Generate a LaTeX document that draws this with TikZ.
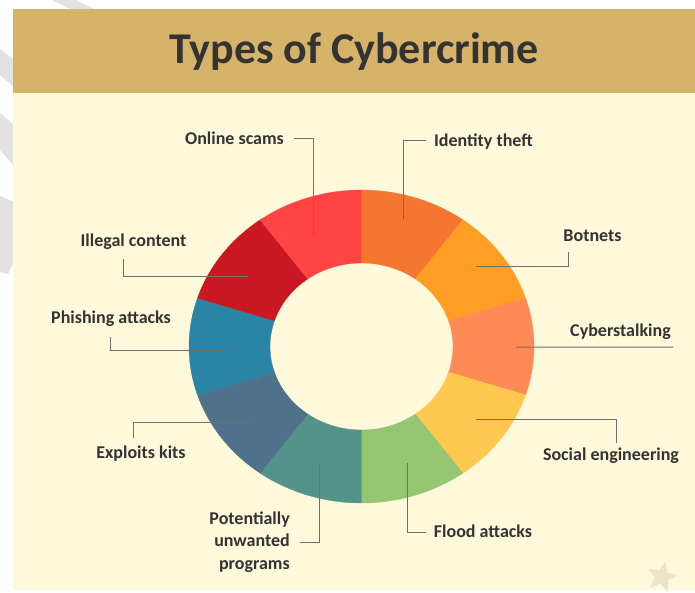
\documentclass[tikz,border=0pt]{standalone}
\usepackage{fontspec}
\setmainfont{Carlito}
\usetikzlibrary{shapes.geometric}
\definecolor{cream}{HTML}{FFF9DB}
\definecolor{bannerc}{HTML}{D7B36A}
\definecolor{txt}{HTML}{333333}
\definecolor{lin}{HTML}{707070}
\definecolor{wmark}{HTML}{E2E2E2}
\definecolor{starc}{HTML}{EBE4CB}
\definecolor{cA}{HTML}{F5762E}
\definecolor{cB}{HTML}{FF9D25}
\definecolor{cC}{HTML}{FF8A55}
\definecolor{cD}{HTML}{FFC94F}
\definecolor{cE}{HTML}{96C574}
\definecolor{cF}{HTML}{53938A}
\definecolor{cG}{HTML}{4F718A}
\definecolor{cH}{HTML}{2A84A5}
\definecolor{cI}{HTML}{C91822}
\definecolor{cJ}{HTML}{FF4444}
\begin{document}
\begin{tikzpicture}[x=1pt,y=1pt,
  lbl/.style={font=\bfseries\fontsize{18}{22.5}\selectfont, text=txt, inner sep=0pt, text height=11pt, text depth=0pt},
  conn/.style={draw=lin, line width=1pt},
  titlestyle/.style={font=\bfseries\fontsize{44}{50}\selectfont, text=txt, inner sep=0pt, text height=28pt, text depth=0pt}]
\useasboundingbox (0,0) rectangle (695,592);
\fill[white] (0,0) rectangle (695,592);
% watermark
\fill[wmark] (52,592) -- (76,592) -- (100,580) -- (76,580) -- cycle;
\fill[wmark] (0,543) -- (0,517) -- (14,505) -- (14,532) -- cycle;
\fill[wmark] (0,479) -- (0,442) -- (14,426) -- (14,467) -- cycle;
\fill[wmark] (0,396) -- (0,320) -- (8,318) -- (14,330) -- (14,390) -- cycle;
% banner and background
\fill[bannerc] (13,499) rectangle (695,583.3);
\fill[cream] (13,2) rectangle (695,499);
\node[titlestyle] (title) at (354,542) {Types of Cybercrime};
% ring
\begin{scope}[shift={(361.5,245.5)}]
\foreach \a/\c in {90/cA, 54/cB, 18/cC, -18/cD, -54/cE, -90/cF, -126/cG, -162/cH, -198/cI, -234/cJ} {
  \fill[\c, draw=\c, line width=0.3pt] (\a:172.5 and 156.5) arc[start angle=\a, end angle=\a-36, x radius=172.5, y radius=156.5]
    -- (\a-36:91.5 and 83.5) arc[start angle=\a-36, end angle=\a, x radius=91.5, y radius=83.5] -- cycle;
}
\end{scope}
% ring anchor points
\coordinate (p-os) at (313,356);
\coordinate (p-id) at (403,373);
\coordinate (p-il) at (248,315);
\coordinate (p-bo) at (476,325);
\coordinate (p-ph) at (228,242);
\coordinate (p-cy) at (516,245);
\coordinate (p-ex) at (252,170);
\coordinate (p-so) at (476,173);
\coordinate (p-po) at (319,128);
\coordinate (p-fl) at (407,129);
% labels
\node[lbl] (os) at (234.5,453) {Online scams};
\node[lbl] (id) at (483.5,451) {Identity theft};
\node[lbl] (il) at (133.5,351) {Illegal content};
\node[lbl] (bo) at (592.5,356) {Botnets};
\node[lbl] (ph) at (111,274) {Phishing attacks};
\node[lbl] (cy) at (620.5,261) {Cyberstalking};
\node[lbl] (ex) at (141,139) {Exploits kits};
\node[lbl] (so) at (611,137) {Social engineering};
\node[lbl, text height=, text depth=, align=right, anchor=east] (po) at (290,50) {Potentially\\unwanted\\programs};
\node[lbl] (fl) at (483,60) {Flood attacks};
% connectors
\draw[conn] ([xshift=10pt]os.east) -| (p-os);
\draw[conn] ([xshift=-8pt]id.west) -| (p-id);
\draw[conn] ([xshift=-10.5pt,yshift=-12.5pt]il.south) |- (p-il);
\draw[conn] ([xshift=-24.5pt,yshift=-10.5pt]bo.south) |- (p-bo);
\draw[conn] ([xshift=-1pt,yshift=-13.5pt]ph.south) |- (p-ph);
\draw[conn] (p-cy) -- ([xshift=2.5pt,yshift=-10.5pt]cy.south east);
\draw[conn] ([xshift=-8pt,yshift=9.5pt]ex.north) |- (p-ex);
\draw[conn] (p-so) -| ([xshift=5pt,yshift=6.5pt]so.north);
\draw[conn] ([xshift=10pt]po.east) -| (p-po);
\draw[conn] (p-fl) |- ([xshift=-8pt]fl.west);
% star watermark
\node[star, star points=5, star point ratio=2.3, fill=starc, minimum size=32pt, inner sep=0pt, rotate=-12] (st) at (662,15) {};
\end{tikzpicture}
\end{document}
